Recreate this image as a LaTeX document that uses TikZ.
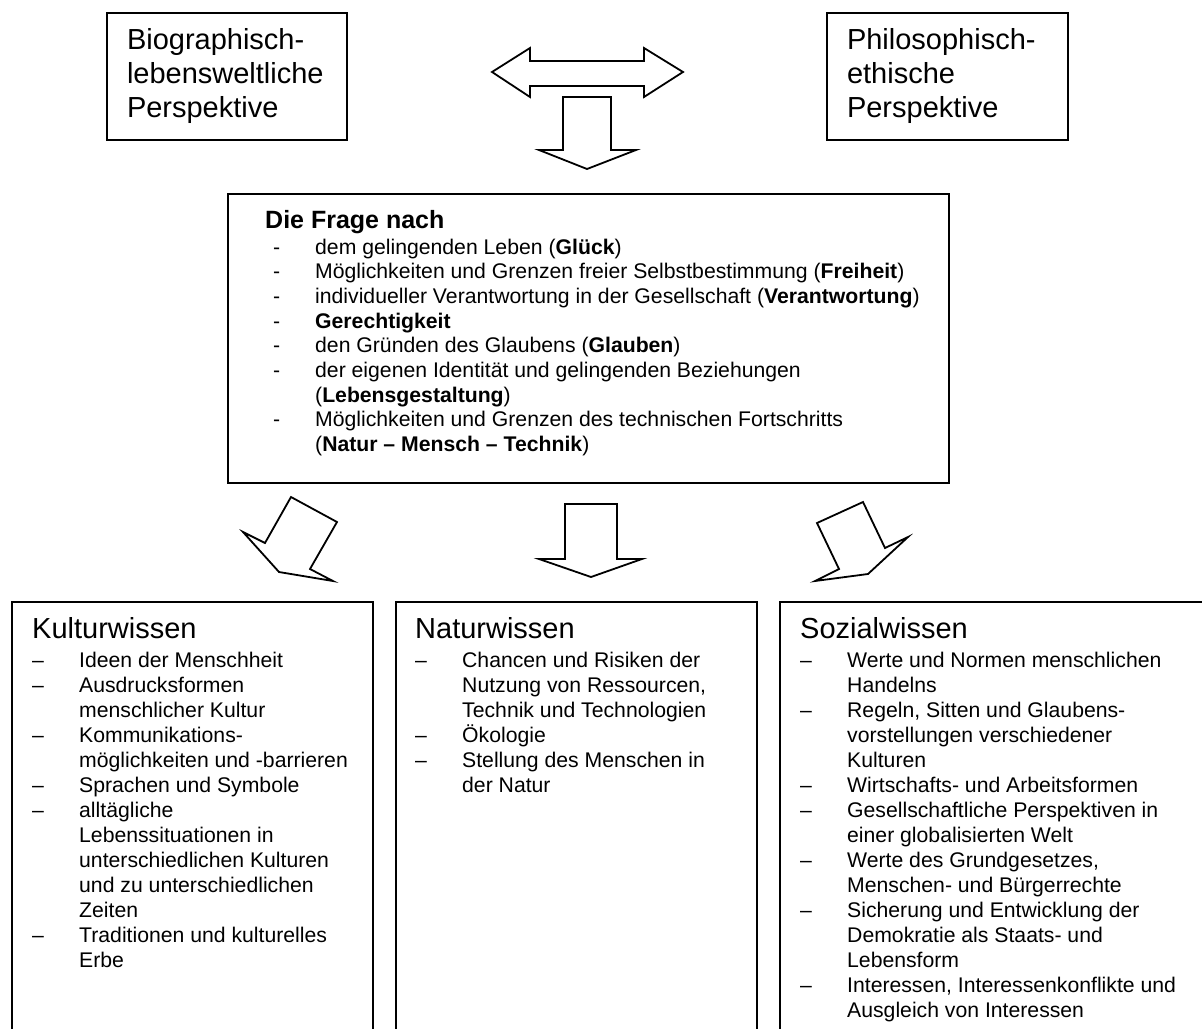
\documentclass[tikz,border=0pt]{standalone}
\usepackage{fontspec}
\setmainfont{Liberation Sans}
\usepackage{tikz}
\tikzset{frame/.style = {draw, line width = 2, anchor = north west, inner sep = 0}}
\tikzset{pfeil/.style = {draw, line width = 1.8, line join = miter, fill = white}}
\tikzset{txt/.style = {anchor = base west, inner sep = 0}}
\newcommand{\titelfont}{\fontsize{29}{34}\selectfont}
\newcommand{\listfont}{\fontsize{21.2}{25}\selectfont}
\newcommand{\fragefont}{\fontsize{21.2}{24.7}\selectfont}
\newcommand{\spalte}[2]{\parbox[t]{#1}{\rightskip = 0pt plus 1fil\lineskiplimit = -30pt #2}}
\newcommand{\bitem}[1]{\par\hangindent = 47pt\hangafter = 1\noindent\makebox[47pt][l]{–}#1}
\newcommand{\fitem}[1]{\par\hangindent = 42pt\hangafter = 1\noindent\makebox[42pt][l]{-}#1}

\begin{document}
\begin{tikzpicture}[x = 1pt, y = -1pt]
      \useasboundingbox (0, 0) rectangle (1202, 1028);
      \clip (0, 0) rectangle (1202, 1028);

      \node [frame, minimum width = 240, minimum height = 127, inner xsep = 20, text width = 200, align = left, font = \titelfont] (bio) at (106, 12) {Biographisch-\\lebensweltliche\\Perspektive};
      \node [frame, minimum width = 241, minimum height = 127, inner xsep = 20, text width = 201, align = left, font = \titelfont] (philo) at (826, 12) {Philosophisch-\\ethische\\Perspektive};

      \draw [pfeil] (492, 72) -- (530, 48) -- (530, 61) -- (644, 61) -- (644, 48) -- (683, 72) -- (644, 97) -- (644, 86) -- (530, 86) -- (530, 97) -- cycle;
      \draw [pfeil] (563, 97) -- (611, 97) -- (611, 150) -- (636, 150) -- (587, 169) -- (539, 150) -- (563, 150) -- cycle;

      \node [frame, minimum width = 721, minimum height = 289] (frage) at (227, 193) {};
      \node [txt, font = \bfseries\fontsize{25}{30}\selectfont] (fragetitel) at (265, 228) {Die Frage nach};
      \node [txt, font = \fragefont] (frageliste) at (273, 254) {\spalte{660pt}{%
        \fitem{dem gelingenden Leben (\textbf{Glück})}
        \fitem{Möglichkeiten und Grenzen freier Selbstbestimmung (\textbf{Freiheit})}
        \fitem{individueller Verantwortung in der Gesellschaft (\textbf{Verantwortung})}
        \fitem{\textbf{Gerechtigkeit}}
        \fitem{den Gründen des Glaubens (\textbf{Glauben})}
        \fitem{der eigenen Identität und gelingenden Beziehungen\\(\textbf{Lebensgestaltung})}
        \fitem{Möglichkeiten und Grenzen des technischen Fortschritts\\(\textbf{Natur – Mensch – Technik})}}};

      \draw [pfeil] (291, 497) -- (337, 522) -- (310, 569) -- (333, 581) -- (279, 572) -- (243, 532) -- (265, 543) -- cycle;
      \draw [pfeil] (565, 504) -- (617, 504) -- (617, 559) -- (642, 559) -- (591, 577) -- (539, 559) -- (565, 559) -- cycle;
      \draw [pfeil] (817, 523) -- (863, 502) -- (885, 548) -- (908, 537) -- (868, 574) -- (815, 581) -- (839, 569) -- cycle;

      \node [frame, minimum width = 361, minimum height = 440] (kultur) at (11, 601) {};
      \node [txt, font = \titelfont] (kulturtitel) at (32, 638) {Kulturwissen};
      \node [txt, font = \listfont] (kulturliste) at (32, 667) {\spalte{400pt}{%
        \bitem{Ideen der Menschheit}
        \bitem{Ausdrucksformen\\menschlicher Kultur}
        \bitem{Kommunikations-\\möglichkeiten und -barrieren}
        \bitem{Sprachen und Symbole}
        \bitem{alltägliche\\Lebenssituationen in\\unterschiedlichen Kulturen\\und zu unterschiedlichen\\Zeiten}
        \bitem{Traditionen und kulturelles\\Erbe}}};

      \node [frame, minimum width = 361, minimum height = 440] (natur) at (395, 601) {};
      \node [txt, font = \titelfont] (naturtitel) at (415, 638) {Naturwissen};
      \node [txt, font = \listfont] (naturliste) at (415, 667) {\spalte{400pt}{%
        \bitem{Chancen und Risiken der\\Nutzung von Ressourcen,\\Technik und Technologien}
        \bitem{Ökologie}
        \bitem{Stellung des Menschen in\\der Natur}}};

      \node [frame, minimum width = 440, minimum height = 440] (sozial) at (779, 601) {};
      \node [txt, font = \titelfont] (sozialtitel) at (800, 638) {Sozialwissen};
      \node [txt, font = \listfont] (sozialliste) at (800, 667) {\spalte{420pt}{%
        \bitem{Werte und Normen menschlichen\\Handelns}
        \bitem{Regeln, Sitten und Glaubens-\\vorstellungen verschiedener\\Kulturen}
        \bitem{Wirtschafts- und Arbeitsformen}
        \bitem{Gesellschaftliche Perspektiven in\\einer globalisierten Welt}
        \bitem{Werte des Grundgesetzes,\\Menschen- und Bürgerrechte}
        \bitem{Sicherung und Entwicklung der\\Demokratie als Staats- und\\Lebensform}
        \bitem{Interessen, Interessenkonflikte und\\Ausgleich von Interessen}}};
\end{tikzpicture}
\end{document}
